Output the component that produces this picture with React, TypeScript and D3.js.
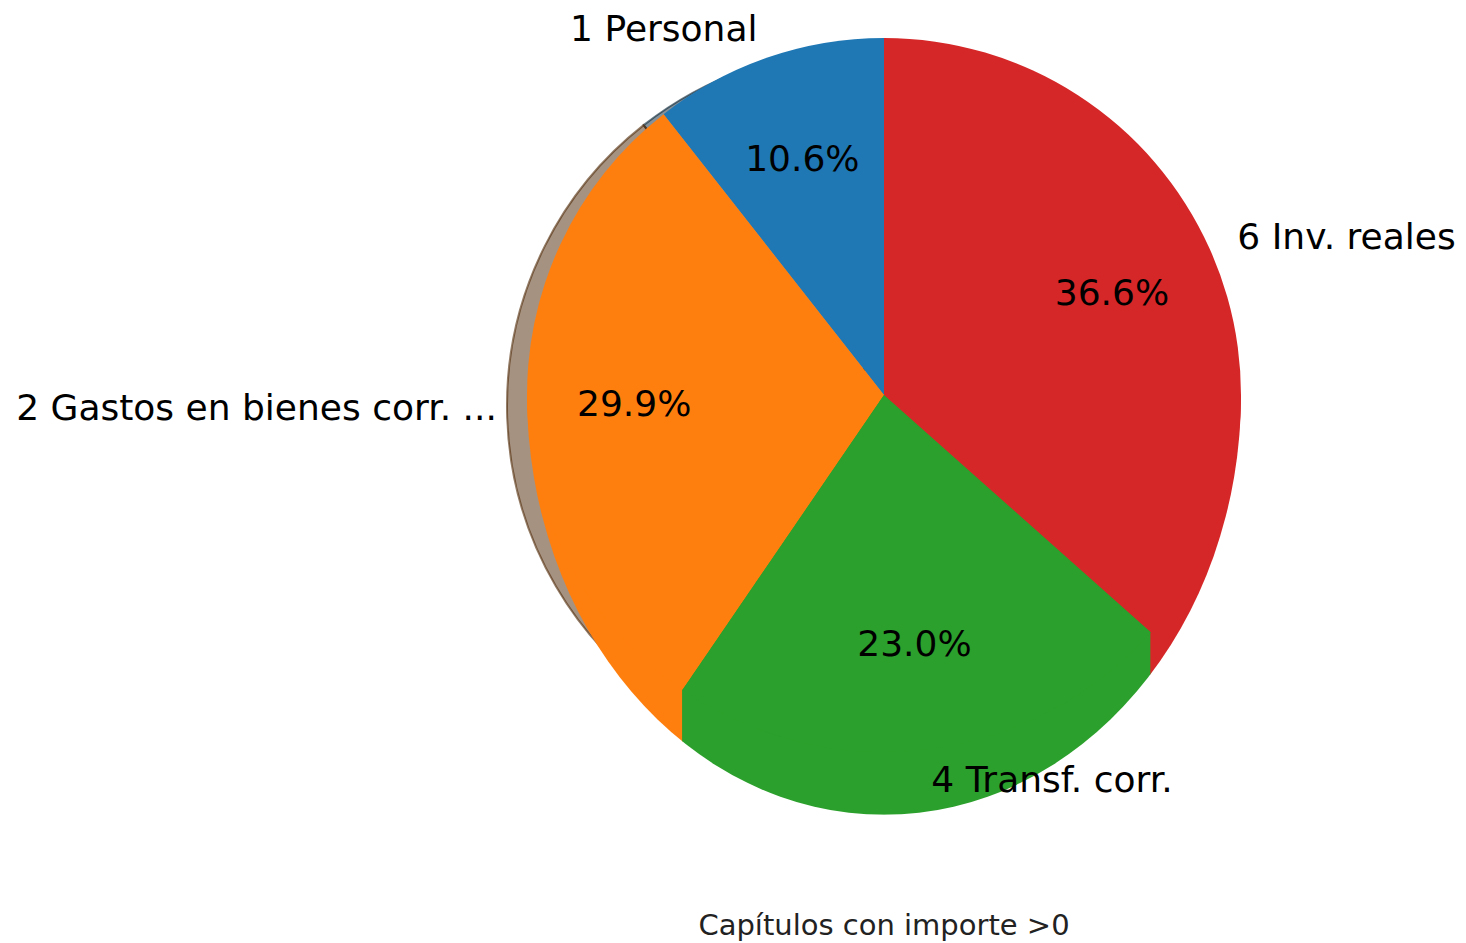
import React from "react";
import * as d3 from "d3";

const categories = ["1 Personal", "2 Gastos en bienes corr. ...", "4 Transf. corr.", "6 Inv. reales"];
const values = [10.6, 29.9, 23.0, 36.6];
const colors = ["#1f77b4", "#ff7f0e", "#2ca02c", "#d62728"];
const title = "Capítulos con importe >0";

const W = 1466;
const H = 943;
const cx = 884;
const cy = 395;
const R = 357;
const lowerStretch = 1.176;

function shadowColor(c: string, k = 0.3) {
  const rgb = d3.rgb(c);
  return d3.rgb(rgb.r * k, rgb.g * k, rgb.b * k).toString();
}

export default function App() {
  const pie = d3
    .pie<number>()
    .sort(null)
    .startAngle(0)
    .endAngle(-2 * Math.PI)
    .value((d) => d);
  const arcs = pie(values);
  const arc = d3.arc<d3.PieArcDatum<number>>().innerRadius(0).outerRadius(R);

  const mid = (a: d3.PieArcDatum<number>) => (a.startAngle + a.endAngle) / 2;
  const pos = (a: d3.PieArcDatum<number>, f: number) => {
    const m = mid(a);
    return [cx + Math.sin(m) * R * f, cy - Math.cos(m) * R * f];
  };

  // x-range of each wedge's rim in the lower half (for the stretched lower band)
  const lowerRanges = arcs.map((a) => {
    const n = 400;
    let lo = Infinity;
    let hi = -Infinity;
    for (let k = 0; k <= n; k++) {
      const t = a.startAngle + ((a.endAngle - a.startAngle) * k) / n;
      if (Math.cos(t) < 0) {
        const x = cx + Math.sin(t) * R;
        lo = Math.min(lo, x);
        hi = Math.max(hi, x);
      }
    }
    return [lo, hi];
  });

  const font = "DejaVu Sans, sans-serif";

  return (
    <svg
      width={W}
      height={H}
      style={{ position: "absolute", left: 0, top: 0, background: "#fff" }}
    >
      <defs>
        <clipPath id="lowerEllipse">
          <path
            d={`M${cx - R},${cy} A${R},${R * lowerStretch} 0 0 0 ${cx + R},${cy} Z`}
          />
        </clipPath>
      </defs>
      {/* shadow */}
      <g transform={`translate(${cx - 20},${cy + 11})`}>
        {arcs.map((a, i) => (
          <path
            key={i}
            d={arc(a) || ""}
            fill={shadowColor(colors[i])}
            fillOpacity={0.5}
            stroke={shadowColor(colors[i])}
            strokeOpacity={0.6}
            strokeWidth={2}
          />
        ))}
      </g>
      {/* stretched lower band */}
      <g clipPath="url(#lowerEllipse)">
        {arcs.map((a, i) =>
          isFinite(lowerRanges[i][0]) ? (
            <rect
              key={i}
              x={lowerRanges[i][0] - 0.5}
              y={cy}
              width={lowerRanges[i][1] - lowerRanges[i][0] + 1}
              height={R * lowerStretch}
              fill={colors[i]}
            />
          ) : null
        )}
      </g>
      {/* main pie */}
      <g transform={`translate(${cx},${cy})`}>
        {arcs.map((a, i) => (
          <path key={i} d={arc(a) || ""} fill={colors[i]} />
        ))}
      </g>
      {/* labels */}
      {arcs.map((a, i) => {
        const [x, y] = pos(a, 1.085);
        const anchor = x < cx ? "end" : "start";
        return (
          <text
            key={"l" + i}
            x={x}
            y={y}
            textAnchor={anchor}
            dominantBaseline="central"
            fontFamily={font}
            fontSize={36}
            fill="#000"
          >
            {categories[i]}
          </text>
        );
      })}
      {arcs.map((a, i) => {
        const [x, y] = pos(a, 0.7);
        return (
          <text
            key={"p" + i}
            x={x}
            y={y}
            textAnchor="middle"
            dominantBaseline="central"
            fontFamily={font}
            fontSize={36}
            fill="#000"
          >
            {values[i].toFixed(1) + "%"}
          </text>
        );
      })}
      <text
        x={cx}
        y={925}
        textAnchor="middle"
        dominantBaseline="central"
        fontFamily={font}
        fontSize={29}
        fill="#222"
      >
        {title}
      </text>
    </svg>
  );
}
